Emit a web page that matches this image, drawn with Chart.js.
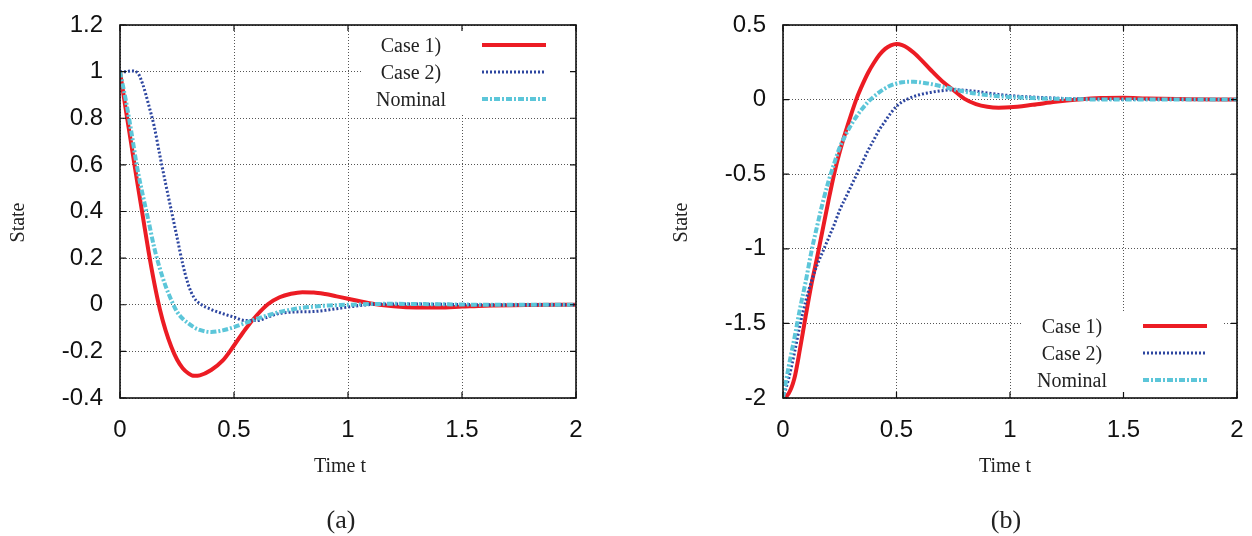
<!DOCTYPE html>
<html>
<head>
<meta charset="utf-8">
<script src="https://cdn.jsdelivr.net/npm/chart.js@4.4.1/dist/chart.umd.min.js"></script>
<style>
  html, body { margin: 0; padding: 0; background: #fff; }
  #wrap { position: relative; width: 1252px; height: 536px; overflow: hidden; }
  .box { position: absolute; top: 0; width: 626px; height: 536px; }
  .cap { position: absolute; top: 507px; font: 26px "Liberation Serif", serif; line-height: 26px; color: #222; transform: translateX(-50%); }
</style>
</head>
<body>
<div id="wrap">
  <div class="box" style="left:0"><canvas id="chartA" width="626" height="536"></canvas></div>
  <div class="box" style="left:626px"><canvas id="chartB" width="626" height="536"></canvas></div>
  <div class="cap" style="left:341px">(a)</div>
  <div class="cap" style="left:1006px">(b)</div>
</div>
<script>
const seriesNames = ['Case 1)', 'Case 2)', 'Nominal'];

// panel (a)
const tA = [0, 0.025, 0.05, 0.075, 0.1, 0.125, 0.15, 0.175, 0.2, 0.225, 0.25, 0.275, 0.3, 0.325, 0.35,
  0.4, 0.45, 0.5, 0.55, 0.6, 0.65, 0.7, 0.75, 0.8, 0.85, 0.9, 0.95, 1.0, 1.1, 1.2, 1.3, 1.4, 1.5, 1.6, 1.8, 2.0];
const case1A = [1.0, 0.84, 0.685, 0.53, 0.38, 0.23, 0.095, -0.02, -0.11, -0.18, -0.235, -0.272, -0.294, -0.305,
  -0.303, -0.28, -0.24, -0.175, -0.105, -0.045, 0.003, 0.032, 0.047, 0.054, 0.053, 0.046, 0.036, 0.026,
  0.005, -0.007, -0.012, -0.012, -0.008, -0.004, -0.001, 0];
const case2A = [1.0, 1.0, 1.003, 0.997, 0.945, 0.86, 0.765, 0.64, 0.52, 0.405, 0.29, 0.175, 0.085, 0.03,
  0.005, -0.02, -0.038, -0.053, -0.068, -0.068, -0.052, -0.037, -0.032, -0.03, -0.029, -0.024, -0.017, -0.01,
  0.001, 0.003, 0.003, 0.002, 0.001, 0, 0, 0];
const nominalA = [1.0, 0.88, 0.74, 0.59, 0.47, 0.36, 0.245, 0.155, 0.08, 0.02, -0.03, -0.06, -0.08, -0.097,
  -0.108, -0.117, -0.11, -0.096, -0.078, -0.06, -0.045, -0.031, -0.021, -0.013, -0.008, -0.004, -0.002, 0,
  0.003, 0.004, 0.003, 0.002, 0.001, 0, 0, 0];

// panel (b)
const tB = [0, 0.025, 0.05, 0.075, 0.1, 0.125, 0.15, 0.175, 0.2, 0.225, 0.25, 0.275, 0.3, 0.325, 0.35,
  0.375, 0.4, 0.425, 0.45, 0.475, 0.5, 0.525, 0.55, 0.575, 0.6, 0.65, 0.7, 0.75, 0.8, 0.85, 0.9, 0.95, 1.0,
  1.1, 1.2, 1.3, 1.4, 1.5, 1.6, 1.8, 2.0];
const case1B = [-2, -1.97, -1.87, -1.67, -1.45, -1.24, -1.06, -0.87, -0.68, -0.5, -0.35, -0.22, -0.1, 0.01, 0.1,
  0.18, 0.245, 0.3, 0.34, 0.363, 0.372, 0.365, 0.345, 0.315, 0.28, 0.2, 0.125, 0.065, 0.005, -0.03, -0.048, -0.054, -0.052,
  -0.035, -0.015, 0.0, 0.01, 0.012, 0.008, 0.002, 0];
const case2B = [-2, -1.87, -1.7, -1.51, -1.35, -1.22, -1.11, -1.02, -0.93, -0.84, -0.74, -0.66, -0.58, -0.5, -0.42,
  -0.34, -0.27, -0.2, -0.145, -0.09, -0.045, -0.015, 0.005, 0.02, 0.032, 0.048, 0.06, 0.066, 0.063, 0.055, 0.045, 0.035, 0.027,
  0.017, 0.01, 0.005, 0.002, 0.001, 0, 0, 0];
const nominalB = [-2, -1.79, -1.6, -1.4, -1.22, -1.02, -0.85, -0.69, -0.55, -0.43, -0.32, -0.24, -0.17, -0.11, -0.06,
  -0.015, 0.02, 0.05, 0.075, 0.095, 0.108, 0.116, 0.12, 0.12, 0.117, 0.105, 0.088, 0.07, 0.053, 0.04, 0.03, 0.023, 0.018,
  0.01, 0.005, 0.002, 0.001, 0, 0, 0, 0];

const styles = [
  { color: '#ec1c24', width: 4, dash: [] },
  { color: '#2d46a0', width: 3, dash: [2, 2] },
  { color: '#5cc6d9', width: 4, dash: [6, 2, 2, 2] }
];

const fmt = v => String(parseFloat(v.toFixed(2)));
const pts = (t, v) => t.map((x, i) => ({ x, y: v[i] }));
const serif = '20px "Liberation Serif", serif';

const framePlugin = {
  id: 'frame',
  afterDraw(chart) {
    const { ctx, chartArea: a, scales } = chart;
    ctx.save();
    ctx.setLineDash([]);
    ctx.strokeStyle = '#111';
    ctx.lineWidth = 1.2;
    ctx.beginPath();
    scales.x.ticks.forEach(tk => {
      const px = scales.x.getPixelForValue(tk.value);
      ctx.moveTo(px, a.bottom); ctx.lineTo(px, a.bottom - 6);
      ctx.moveTo(px, a.top); ctx.lineTo(px, a.top + 6);
    });
    scales.y.ticks.forEach(tk => {
      const py = scales.y.getPixelForValue(tk.value);
      ctx.moveTo(a.left, py); ctx.lineTo(a.left + 6, py);
      ctx.moveTo(a.right, py); ctx.lineTo(a.right - 6, py);
    });
    ctx.stroke();
    ctx.lineWidth = 1.6;
    ctx.strokeRect(a.left, a.top, a.right - a.left, a.bottom - a.top);
    ctx.restore();
  }
};

// axis titles, placed like the gnuplot output (slightly off-centre)
const titlePlugin = {
  id: 'axisTitles',
  afterDraw(chart, args, opts) {
    const { ctx, chartArea: a } = chart;
    ctx.save();
    ctx.fillStyle = '#222';
    ctx.font = serif;
    ctx.textAlign = 'center';
    ctx.textBaseline = 'middle';
    ctx.fillText('Time t', (a.left + a.right) / 2 + opts.dx, a.bottom + 69);
    ctx.translate(a.left - 101, (a.top + a.bottom) / 2 + 11);
    ctx.rotate(-Math.PI / 2);
    ctx.fillText('State', 0, 0);
    ctx.restore();
  }
};

const legendPlugin = {
  id: 'boxLegend',
  beforeDatasetsDraw(chart, args, opts) {
    const { ctx, chartArea: a } = chart;
    const y0 = opts.atTop ? a.top + 20 : a.bottom - 72;
    ctx.save();
    ctx.fillStyle = '#fff';
    ctx.fillRect(a.right - 214, y0 - 14, 214 - opts.boxRight, 82);
    ctx.font = serif;
    ctx.textAlign = 'center';
    ctx.textBaseline = 'middle';
    seriesNames.forEach((name, i) => {
      const y = y0 + i * 27;
      ctx.fillStyle = '#222';
      ctx.fillText(name, a.right - 165, y + 2);
      ctx.strokeStyle = styles[i].color;
      ctx.lineWidth = styles[i].width;
      ctx.setLineDash(styles[i].dash);
      ctx.beginPath();
      ctx.moveTo(a.right - 94, y);
      ctx.lineTo(a.right - 30, y);
      ctx.stroke();
    });
    ctx.restore();
  }
};

function makeChart(id, t, series, yMin, yMax, yStep, pad, yWidth, legendOpts, titleDx) {
  const tickFont = { family: 'Liberation Sans', size: 24 };
  return new Chart(document.getElementById(id), {
    type: 'line',
    data: {
      datasets: series.map((v, i) => ({
        label: seriesNames[i],
        data: pts(t, v),
        borderColor: styles[i].color,
        borderWidth: styles[i].width,
        borderDash: styles[i].dash,
        pointRadius: 0,
        fill: false,
        cubicInterpolationMode: 'monotone',
        order: 3 - i
      }))
    },
    options: {
      responsive: false,
      animation: false,
      events: [],
      layout: { padding: pad },
      plugins: {
        legend: { display: false },
        tooltip: { enabled: false },
        boxLegend: legendOpts,
        axisTitles: { dx: titleDx }
      },
      scales: {
        x: {
          type: 'linear', min: 0, max: 2,
          ticks: { stepSize: 0.5, callback: fmt, font: tickFont, color: '#111', padding: 8, maxRotation: 0 },
          grid: { color: '#555', lineWidth: 1, drawTicks: true, tickLength: 10, tickColor: 'rgba(0,0,0,0)' },
          border: { display: false, dash: [1, 2] },
          afterFit(s) { s.height = 82; }
        },
        y: {
          type: 'linear', min: yMin, max: yMax,
          ticks: { stepSize: yStep, callback: fmt, font: tickFont, color: '#111', padding: 8 },
          grid: { color: '#555', lineWidth: 1, drawTicks: true, tickLength: 9, tickColor: 'rgba(0,0,0,0)' },
          border: { display: false, dash: [1, 2] },
          afterFit(s) { s.width = yWidth; }
        }
      }
    },
    plugins: [legendPlugin, framePlugin, titlePlugin]
  });
}

makeChart('chartA', tA, [case1A, case2A, nominalA], -0.4, 1.2, 0.2,
  { left: 0, right: 50, top: 25, bottom: 56 }, 120, { atTop: true, boxRight: 6 }, -8);
makeChart('chartB', tB, [case1B, case2B, nominalB], -2, 0.5, 0.5,
  { left: 36, right: 15, top: 25, bottom: 56 }, 121, { atTop: false, boxRight: 15 }, -5);
</script>
</body>
</html>
